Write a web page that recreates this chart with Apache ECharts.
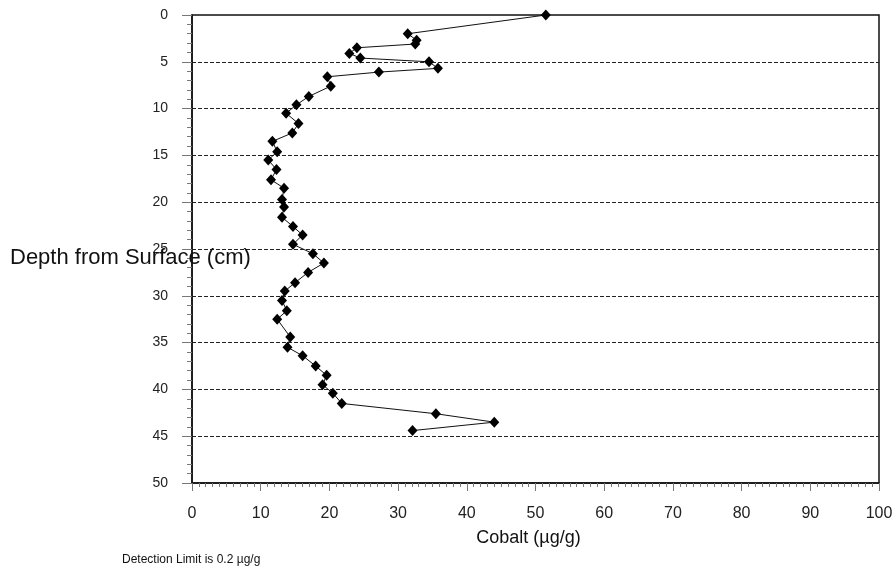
<!DOCTYPE html>
<html>
<head>
<meta charset="utf-8">
<script src="https://cdn.jsdelivr.net/npm/echarts@6/dist/echarts.min.js"></script>
<style>
  html, body { margin: 0; padding: 0; background: #fff; }
  #chart { width: 896px; height: 572px; }
</style>
</head>
<body>
<div id="chart"></div>
<script>
// Core sample: cobalt concentration by depth below the surface
const depthCm = [
  0, 2.0, 2.7, 3.1, 3.5, 4.1, 4.6, 5.0, 5.7, 6.1, 6.6, 7.6, 8.7, 9.6, 10.5,
  11.6, 12.6, 13.5, 14.6, 15.5, 16.5, 17.6, 18.5, 19.7, 20.5, 21.6, 22.6,
  23.5, 24.5, 25.5, 26.5, 27.5, 28.6, 29.5, 30.5, 31.6, 32.5, 34.4, 35.5,
  36.4, 37.5, 38.5, 39.5, 40.4, 41.5, 42.6, 43.5, 44.4
];
const cobaltUgG = [
  51.5, 31.4, 32.7, 32.5, 24.0, 22.9, 24.5, 34.5, 35.8, 27.2, 19.7, 20.2, 17.0, 15.2, 13.7,
  15.5, 14.6, 11.7, 12.4, 11.1, 12.3, 11.5, 13.4, 13.1, 13.4, 13.1, 14.7,
  16.1, 14.7, 17.6, 19.2, 16.9, 15.0, 13.5, 13.1, 13.8, 12.4, 14.3, 13.9,
  16.1, 18.0, 19.6, 19.0, 20.5, 21.8, 35.5, 44.0, 32.1
];
const depthTicks = { min: 0, max: 50, step: 5 };
const cobaltTicks = { min: 0, max: 100, step: 10 };

const points = depthCm.map((d, i) => [cobaltUgG[i], d]);
const font = 'Liberation Sans, Arial, sans-serif';

const chart = echarts.init(document.getElementById('chart'), null, { renderer: 'canvas' });
chart.setOption({
  animation: false,
  backgroundColor: '#fff',
  grid: {
    left: 192, right: 17, top: 15, bottom: 89,
    show: true, borderColor: '#111', borderWidth: 1.5, backgroundColor: 'transparent'
  },
  xAxis: {
    type: 'value',
    position: 'bottom',
    min: cobaltTicks.min, max: cobaltTicks.max, interval: cobaltTicks.step,
    name: 'Cobalt (µg/g)',
    nameLocation: 'middle',
    nameGap: 46,
    nameTextStyle: { fontFamily: font, fontSize: 18, color: '#111', padding: [0, 14, 0, 0] },
    axisLine: { show: true, onZero: false, lineStyle: { color: '#111', width: 1.5 } },
    axisTick: { show: true, inside: false, length: 8, lineStyle: { color: '#777' } },
    minorTick: { show: true, splitNumber: 10, length: 4, lineStyle: { color: '#777' } },
    axisLabel: { fontFamily: font, fontSize: 16, color: '#222', margin: 23 },
    splitLine: { show: false }
  },
  yAxis: {
    type: 'value',
    position: 'left',
    inverse: true,
    min: depthTicks.min, max: depthTicks.max, interval: depthTicks.step,
    axisLine: { show: true, onZero: false, lineStyle: { color: '#111', width: 1.5 } },
    axisTick: { show: true, inside: false, length: 10, lineStyle: { color: '#777' } },
    minorTick: { show: true, splitNumber: 5, length: 5, lineStyle: { color: '#777' } },
    axisLabel: { fontFamily: font, fontSize: 14, color: '#222', margin: 24 },
    splitLine: {
      show: true, showMinLine: false, showMaxLine: false,
      lineStyle: { color: '#222', width: 1, type: [4, 2] }
    }
  },
  graphic: [
    {
      type: 'text', left: 10, top: 247, z: 10,
      style: { text: 'Depth from Surface (cm)', font: '22px ' + font, fill: '#111' }
    },
    {
      type: 'text', left: 122, top: 554,
      style: { text: 'Detection Limit is 0.2 µg/g', font: '12px ' + font, fill: '#111' }
    }
  ],
  series: [{
    type: 'line',
    data: points,
    symbol: 'diamond',
    symbolSize: [10, 11],
    itemStyle: { color: '#000' },
    lineStyle: { color: '#111', width: 1 },
    showSymbol: true,
    clip: false
  }]
});
</script>
</body>
</html>
